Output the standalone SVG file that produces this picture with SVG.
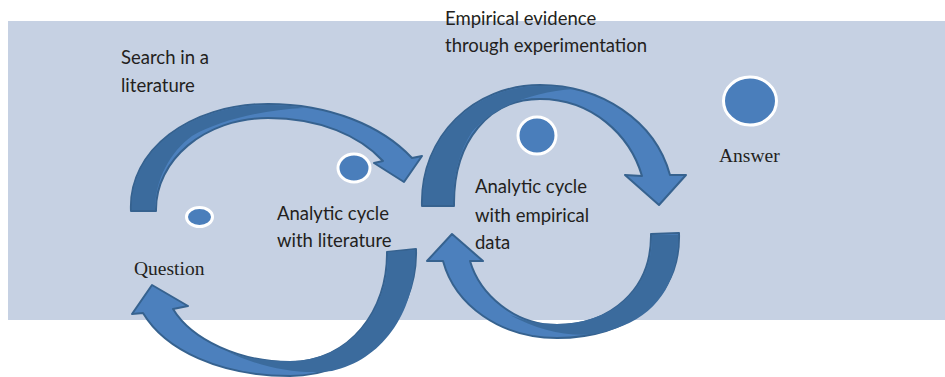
<svg xmlns="http://www.w3.org/2000/svg" width="945" height="377" viewBox="0 0 945 377">
<style>
.bg{fill:#C6D1E3}
.rib{fill:#4C80BD;stroke:#36628F;stroke-width:2;stroke-linejoin:round}
.dark{fill:#3B6B9D;stroke:none}
.dot{fill:#4A7EBB;stroke:#FFFFFF;stroke-width:3}
.sans{font-family:Lato,"Open Sans","Liberation Sans",sans-serif;font-size:18.5px;fill:#231F20}
.serif{font-family:"Liberation Serif","Times New Roman",serif;font-size:19.5px;fill:#231F20}
</style>
<rect class="bg" x="8" y="21" width="937" height="299"/>
<g id="connectors">
  <g id="arrow-search">
    <path class="rib" d="M131,211 C128,150 190,104 268,104 C330,104 382,126 412,158 L422,156 L404,182 L374,163 L383,161 C360,136 320,118 268,118 C205,118 155,160 156,211 Z"/>
    <path class="dark" d="M132,210 C129,151 190,105 268,105 C282,105 294,106 304,108 C262,110 220,120 192,136 C170,152 155,180 155,210 Z"/>
  </g>
  <g id="arrow-return-left">
    <path class="rib" d="M416,249 C418,320 360,376 290,376 C220,376 165,350 143,313 L132,314 L152,285 L188,306 L173,309 C192,340 240,362 290,362 C350,362 388,310 387,252 Z"/>
    <path class="dark" d="M388,252 C389,310 350,361 290,361 C265,361 245,358 228,352 C262,368 300,375 332,371 C382,360 417,312 415,250 Z"/>
  </g>
  <g id="arrow-empirical">
    <path class="rib" d="M422,206 C420,135 475,85 540,85 C600,85 655,120 670,175 L686,175 L659,205 L625,175 L642,176 C630,135 592,99 540,99 C490,99 453,140 454,206 Z"/>
    <path class="dark" d="M423,205 C421,136 475,86 540,86 C552,86 563,87 574,89 C530,92 492,108 472,132 C460,150 453,175 453,205 Z"/>
  </g>
  <g id="arrow-return-right">
    <path class="rib" d="M679,233 C681,300 625,338 557,338 C500,338 455,305 443,261 L427,261 L452,234 L483,261 L470,261 C480,295 515,325 557,325 C610,325 652,290 651,234 Z"/>
    <path class="dark" d="M652,235 C653,290 610,324 557,324 C540,324 525,321 510,315 C540,332 575,338 600,333 C650,322 679,290 678,235 Z"/>
  </g>
</g>
<g id="node-question">
  <ellipse class="dot" cx="199.5" cy="217" rx="13" ry="9.5"/>
  <text class="serif" x="134" y="275">Question</text>
</g>
<g id="node-search">
  <text class="sans" x="121" y="64">Search in a</text>
  <text class="sans" x="121" y="92">literature</text>
</g>
<g id="node-analytic-literature">
  <ellipse class="dot" cx="354" cy="168" rx="16" ry="14"/>
  <text class="sans" x="277" y="220">Analytic cycle</text>
  <text class="sans" x="277" y="247">with literature</text>
</g>
<g id="node-empirical">
  <text class="sans" x="445" y="25">Empirical evidence</text>
  <text class="sans" x="445" y="52">through experimentation</text>
</g>
<g id="node-analytic-empirical">
  <ellipse class="dot" cx="537" cy="135.5" rx="19" ry="18.5"/>
  <text class="sans" x="475" y="193">Analytic cycle</text>
  <text class="sans" x="475" y="222">with empirical</text>
  <text class="sans" x="475" y="249">data</text>
</g>
<g id="node-answer">
  <ellipse class="dot" cx="750" cy="101" rx="26.5" ry="24"/>
  <text class="serif" x="719" y="162">Answer</text>
</g>
</svg>
